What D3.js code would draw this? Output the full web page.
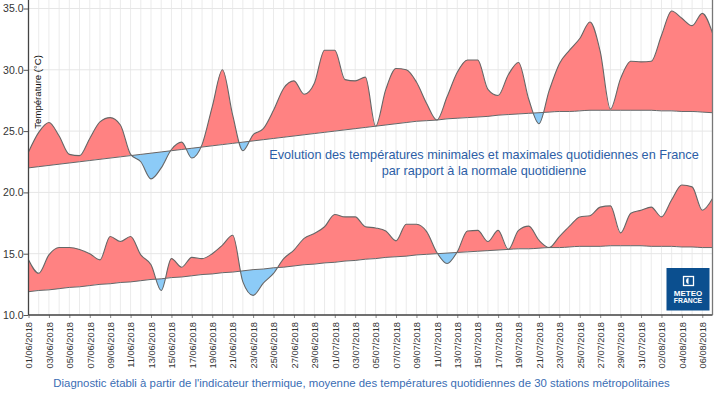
<!DOCTYPE html>
<html>
<head>
<meta charset="utf-8">
<script src="https://cdn.jsdelivr.net/npm/d3@7"></script>
<style>
  body { margin: 0; background: #fff; }
  svg { display: block; font-family: "Liberation Sans", Arial, sans-serif; }
</style>
</head>
<body>
<div id="wrapper"></div>
<script>
// Daily values, 01/06/2018 -> 07/08/2018 (one per day)
const startDate = new Date(2018, 5, 1)
const tMax = [23.3, 24.9, 25.7, 24.6, 23.1, 23.0, 24.4, 25.75, 26.1, 25.5,
  23.1, 22.5, 21.1, 22.0, 23.5, 24.1, 22.8, 23.9, 27.0, 30.0,
  26.3, 23.4, 24.7, 25.2, 26.7, 28.5, 29.1, 28.0, 28.9, 31.6,
  31.6, 29.2, 29.1, 29.4, 25.4, 28.4, 30.1, 30.0, 29.0, 27.25,
  25.9, 27.8, 29.8, 30.8, 30.8, 28.4, 27.9, 29.6, 30.6, 27.6,
  25.6, 28.3, 30.5, 31.6, 32.55, 33.9, 31.5, 26.8, 29.3, 30.7,
  30.65, 30.7, 32.8, 34.8, 34.2, 33.6, 34.6, 33.0]
const normMax = [22.0, 22.1, 22.2, 22.3, 22.4, 22.5, 22.6, 22.7, 22.8, 22.9,
  23.0, 23.1, 23.2, 23.3, 23.4, 23.5, 23.6, 23.7, 23.8, 23.9,
  24.0, 24.1, 24.2, 24.3, 24.4, 24.5, 24.6, 24.7, 24.8, 24.9,
  25.0, 25.1, 25.2, 25.3, 25.4, 25.5, 25.6, 25.7, 25.8, 25.85,
  25.9, 26.0, 26.05, 26.1, 26.15, 26.2, 26.3, 26.35, 26.4, 26.45,
  26.5, 26.55, 26.6, 26.6, 26.65, 26.7, 26.7, 26.7, 26.7, 26.7,
  26.7, 26.7, 26.65, 26.65, 26.6, 26.6, 26.55, 26.5]
const tMin = [14.5, 13.4, 14.9, 15.5, 15.5, 15.35, 15.0, 14.5, 16.4, 16.0,
  16.4, 14.9, 14.1, 12.0, 14.6, 13.9, 14.7, 14.6, 15.0, 15.7,
  16.5, 12.7, 11.6, 12.6, 13.4, 14.6, 15.3, 16.25, 16.65, 17.2,
  18.2, 18.0, 18.0, 17.2, 17.1, 16.85, 16.05, 17.4, 17.4, 16.8,
  15.1, 14.2, 15.15, 16.85, 16.9, 16.0, 16.9, 15.35, 16.9, 17.25,
  16.1, 15.5, 16.4, 17.25, 18.0, 18.1, 18.8, 18.9, 16.7, 18.3,
  18.55, 18.8, 18.0, 19.4, 20.6, 20.45, 18.55, 19.5]
const normMin = [11.9, 12.0, 12.05, 12.15, 12.25, 12.3, 12.4, 12.5, 12.55, 12.65,
  12.7, 12.8, 12.9, 12.95, 13.05, 13.1, 13.2, 13.3, 13.35, 13.45,
  13.5, 13.6, 13.7, 13.75, 13.85, 13.9, 14.0, 14.1, 14.15, 14.25,
  14.3, 14.4, 14.45, 14.55, 14.6, 14.7, 14.75, 14.8, 14.9, 14.95,
  15.0, 15.05, 15.1, 15.15, 15.2, 15.25, 15.3, 15.35, 15.4, 15.4,
  15.45, 15.5, 15.5, 15.55, 15.6, 15.6, 15.6, 15.65, 15.65, 15.65,
  15.65, 15.6, 15.6, 15.6, 15.55, 15.55, 15.5, 15.5]
const yTicks = [10, 15, 20, 25, 30, 35]
const titleLines = [
  "Evolution des températures minimales et maximales quotidiennes en France",
  "par rapport à la normale quotidienne"
]
const caption = "Diagnostic établi à partir de l'indicateur thermique, moyenne des températures quotidiennes de 30 stations métropolitaines"

const fmt = d3.timeFormat("%d/%m/%Y")
const dayLabels = tMax.map((d, i) => fmt(d3.timeDay.offset(startDate, i)))

// Dimensions
const dimensions = {
  width: 715,
  height: 393,
  left: 28.5,
  right: 712.5,
  top: 0,
  bottom: 315,
}

const svg = d3.select("#wrapper")
  .append("svg")
  .attr("width", dimensions.width)
  .attr("height", dimensions.height)

// Scales
const xScale = d3.scaleLinear()
  .domain([0, tMax.length - 1])
  .range([dimensions.left, dimensions.right])

const yScale = d3.scaleLinear()
  .domain([10, 35])
  .range([dimensions.bottom, 8.5])

const idx = d3.range(tMax.length)
const curve = d3.curveMonotoneX

// Grid
svg.append("g")
  .selectAll("line")
  .data(idx)
  .join("line")
  .attr("x1", d => xScale(d))
  .attr("x2", d => xScale(d))
  .attr("y1", dimensions.top)
  .attr("y2", dimensions.bottom)
  .attr("stroke", "#ebebeb")
  .attr("stroke-width", 1)

svg.append("g")
  .selectAll("line")
  .data(yTicks)
  .join("line")
  .attr("x1", dimensions.left)
  .attr("x2", dimensions.right)
  .attr("y1", d => yScale(d))
  .attr("y2", d => yScale(d))
  .attr("stroke", "#e6e6e6")
  .attr("stroke-width", 1)

// Anomaly bands
const defs = svg.append("defs")

function drawBand(name, values, normals) {
  const aboveClip = d3.area()
    .x(i => xScale(i))
    .y0(dimensions.top)
    .y1(i => yScale(normals[i]))
    .curve(curve)
  const belowClip = d3.area()
    .x(i => xScale(i))
    .y0(i => yScale(normals[i]))
    .y1(dimensions.bottom)
    .curve(curve)

  defs.append("clipPath").attr("id", name + "-above")
    .append("path").attr("d", aboveClip(idx))
  defs.append("clipPath").attr("id", name + "-below")
    .append("path").attr("d", belowClip(idx))

  const band = d3.area()
    .x(i => xScale(i))
    .y0(i => yScale(normals[i]))
    .y1(i => yScale(values[i]))
    .curve(curve)

  svg.append("path")
    .attr("d", band(idx))
    .attr("fill", "#ff8282")
    .attr("clip-path", `url(#${name}-above)`)

  svg.append("path")
    .attr("d", band(idx))
    .attr("fill", "#8ccbf7")
    .attr("clip-path", `url(#${name}-below)`)

  const line = d3.line().x(i => xScale(i)).curve(curve)

  svg.append("path")
    .attr("d", line.y(i => yScale(normals[i]))(idx))
    .attr("fill", "none")
    .attr("stroke", "#666")
    .attr("stroke-width", 1)

  svg.append("path")
    .attr("d", line.y(i => yScale(values[i]))(idx))
    .attr("fill", "none")
    .attr("stroke", "#666")
    .attr("stroke-width", 1.1)
}

drawBand("tmax", tMax, normMax)
drawBand("tmin", tMin, normMin)

// Axes
const yAxis = svg.append("g")
  .attr("transform", `translate(${dimensions.left},0)`)
  .call(d3.axisLeft(yScale).tickValues(yTicks).tickFormat(d3.format(".1f")).tickSize(5).tickSizeOuter(0))
yAxis.select(".domain").remove()
yAxis.selectAll("text")
  .attr("fill", "#333")
  .style("font-size", "10.5px")
  .attr("x", -5)
yAxis.selectAll("line").attr("stroke", "#555")

const xAxis = svg.append("g")
  .attr("transform", `translate(0,${dimensions.bottom})`)
  .call(d3.axisBottom(xScale)
    .tickValues(idx.filter(i => i % 2 === 0))
    .tickFormat(i => dayLabels[i])
    .tickSize(3)
    .tickSizeOuter(0))
xAxis.select(".domain").remove()
xAxis.selectAll("line").attr("stroke", "#888")
xAxis.selectAll("text")
  .attr("fill", "#333")
  .style("font-size", "9.3px")
  .attr("text-anchor", "end")
  .attr("transform", "rotate(-90)")
  .attr("x", -7)
  .attr("y", 0)
  .attr("dy", "0.35em")

// Frame lines
svg.append("line")
  .attr("x1", dimensions.left).attr("x2", dimensions.left)
  .attr("y1", dimensions.top).attr("y2", dimensions.bottom)
  .attr("stroke", "#444").attr("stroke-width", 1.3)
svg.append("line")
  .attr("x1", dimensions.left).attr("x2", dimensions.right)
  .attr("y1", dimensions.bottom).attr("y2", dimensions.bottom)
  .attr("stroke", "#444").attr("stroke-width", 1.3)
svg.append("line")
  .attr("x1", dimensions.right).attr("x2", dimensions.right)
  .attr("y1", dimensions.top).attr("y2", dimensions.bottom)
  .attr("stroke", "#777").attr("stroke-width", 1.3)

// Y label
svg.append("text")
  .attr("transform", "translate(41,55) rotate(-90)")
  .attr("text-anchor", "end")
  .attr("fill", "#111")
  .style("font-size", "9.6px")
  .text("Température (°C)")

// Title
svg.append("g")
  .selectAll("text")
  .data(titleLines)
  .join("text")
  .attr("x", 484)
  .attr("y", (d, i) => 158.5 + i * 16.5)
  .attr("text-anchor", "middle")
  .attr("fill", "#2c5ea6")
  .style("font-size", "12.7px")
  .text(d => d)

// Caption
svg.append("text")
  .attr("x", 361.5)
  .attr("y", 387)
  .attr("text-anchor", "middle")
  .attr("fill", "#3a6db4")
  .style("font-size", "11.4px")
  .text(caption)

// Logo
const logo = svg.append("g")
logo.append("rect")
  .attr("x", 666.5).attr("y", 268)
  .attr("width", 43).attr("height", 42.5)
  .attr("fill", "#0b4f8f")
logo.append("rect")
  .attr("x", 683.5).attr("y", 276.5)
  .attr("width", 10).attr("height", 9)
  .attr("fill", "none").attr("stroke", "#fff").attr("stroke-width", 1.3)
logo.append("path")
  .attr("d", "M688.5,277.8 A3.3,3.3 0 0 0 688.5,284.2 Z")
  .attr("fill", "#fff")
logo.append("text")
  .attr("x", 688).attr("y", 296)
  .attr("text-anchor", "middle")
  .attr("fill", "#fff")
  .style("font-size", "8px").style("font-weight", "bold")
  .text("METEO")
logo.append("text")
  .attr("x", 688).attr("y", 303)
  .attr("text-anchor", "middle")
  .attr("fill", "#fff")
  .style("font-size", "6.8px").style("font-weight", "bold")
  .text("FRANCE")
</script>
</body>
</html>
